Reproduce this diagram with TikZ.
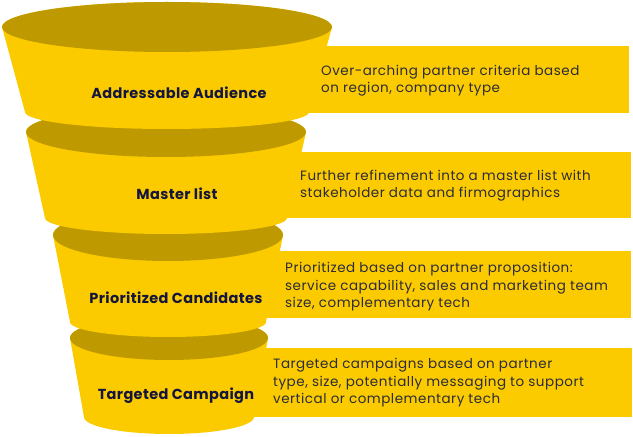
\documentclass[tikz,border=0pt]{standalone}
\usepackage{fontspec}
\setmainfont{Poppins}
\newfontfamily\stagefont{Poppins}[LetterSpace=2.5]
\newfontfamily\descfont{Poppins}[LetterSpace=3.8]
\usepackage{xcolor}
\usepackage{tikz}
\usetikzlibrary{positioning}

\definecolor{funnelyellow}{HTML}{FBCB00}
\definecolor{rimgold}{HTML}{BE9A00}
\definecolor{labelnavy}{HTML}{14163E}
\definecolor{descgray}{HTML}{2B2B3A}

\begin{document}
\begin{tikzpicture}[
  x=1pt,y=1pt,
  body/.style={fill=funnelyellow},
  rim/.style={fill=rimgold},
  descbox/.style={fill=funnelyellow},
  stage/.style={font=\stagefont\fontsize{14.5}{16}\selectfont\bfseries,text=labelnavy,inner sep=0pt},
  desc/.style={font=\descfont\fontsize{13.5}{17.5}\selectfont,text=descgray,align=left,anchor=west,inner sep=0pt},
]
  \useasboundingbox (0,0) rectangle (633,437);
  % text boxes behind the funnel
  \fill[descbox] (200,391) rectangle (629,324);
  \fill[descbox] (200,285) rectangle (631,219);
  \fill[descbox] (200,186) rectangle (631,119);
  \fill[descbox] (200,89) rectangle (632,20);
  % funnel, bottom part first
  \fill[body] (70,99) -- (84,20) arc[start angle=180,end angle=360,x radius=85,y radius=17]
    -- (268,99) arc[start angle=0,end angle=180,x radius=99,y radius=22] -- cycle;
  \fill[rim] (169,99) ellipse[x radius=99,y radius=22];
  \fill[body] (53,202) -- (70,115) arc[start angle=180,end angle=360,x radius=98,y radius=15]
    -- (283,202) arc[start angle=0,end angle=180,x radius=115,y radius=26] -- cycle;
  \fill[rim] (168,202) ellipse[x radius=115,y radius=26];
  \fill[body] (26,305) -- (45,219) arc[start angle=180,end angle=360,x radius=121,y radius=16]
    -- (306,305) arc[start angle=0,end angle=180,x radius=140,y radius=25] -- cycle;
  \fill[rim] (166,305) ellipse[x radius=140,y radius=25];
  \fill[body] (2,410) -- (25,325) arc[start angle=180,end angle=360,x radius=142,y radius=17]
    -- (332,410) arc[start angle=0,end angle=180,x radius=165,y radius=25] -- cycle;
  \fill[rim] (167,410) ellipse[x radius=165,y radius=25];
  % stage names
  \node[stage] (audience) at (179,344) {Addressable Audience};
  \node[stage] (master) at (177,243) {Master list};
  \node[stage] (prioritized) at (176,139) {Prioritized Candidates};
  \node[stage] (targeted) at (176,41) {Targeted Campaign};
  % descriptions
  \node[desc] (audiencetext) at (321,356.5) {Over-arching partner criteria based\\on region, company type};
  \node[desc] (mastertext) at (300,251.5) {Further refinement into a master list with\\stakeholder data and firmographics};
  \node[desc] (prioritizedtext) at (285,150) {Prioritized based on partner proposition:\\service capability, sales and marketing team\\size, complementary tech};
  \node[desc] (targetedtext) at (273,54) {Targeted campaigns based on partner\\type, size, potentially messaging to support\\vertical or complementary tech};
\end{tikzpicture}
\end{document}
